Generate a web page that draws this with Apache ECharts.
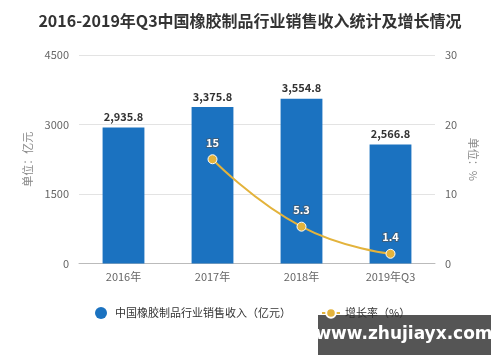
<!DOCTYPE html>
<html><head><meta charset="utf-8">
<script src="https://cdn.jsdelivr.net/npm/echarts@6/dist/echarts.min.js"></script>
<style>html,body{margin:0;padding:0;background:#fff}#c{width:500px;height:362px}</style>
</head><body><div id="c"></div>
<script>
const categories = ['2016年', '2017年', '2018年', '2019年Q3'];
const revenue = [2935.8, 3375.8, 3554.8, 2566.8];
const growth = [null, 15, 5.3, 1.4];
const leftTicks = [0, 1500, 3000, 4500];
const rightTicks = [0, 10, 20, 30];
const title = '2016-2019年Q3中国橡胶制品行业销售收入统计及增长情况';
const barName = '中国橡胶制品行业销售收入（亿元）';
const lineName = '增长率（%）';

const chart = echarts.init(document.getElementById('c'));
const font = '"Noto Sans CJK SC", "Noto Sans", sans-serif';
chart.setOption({
  animation: false,
  textStyle: { fontFamily: font },
  title: { text: title, left: 'center', top: 8,
    textStyle: { fontSize: 16, fontWeight: 'bold', color: '#333', fontFamily: font } },
  grid: { left: 79, right: 65, top: 55, bottom: 98.5 },
  legend: {
    left: 90, top: 302, itemGap: 30, itemWidth: 18, itemHeight: 12,
    textStyle: { fontSize: 11, color: '#333' },
    data: [{ name: barName, icon: 'circle' }, { name: lineName }]
  },
  xAxis: {
    type: 'category', data: categories,
    axisLine: { lineStyle: { color: '#bbb' } },
    axisTick: { show: false },
    axisLabel: { color: '#666', fontSize: 11, margin: 8 }
  },
  yAxis: [{
    type: 'value', min: leftTicks[0], max: leftTicks[3], interval: 1500,
    name: '单位：亿元', nameLocation: 'middle', nameGap: 45, nameRotate: 90,
    nameTextStyle: { color: '#888', fontSize: 11 },
    axisLabel: { color: '#666', fontSize: 11, margin: 10, formatter: v => String(v) },
    splitLine: { lineStyle: { color: '#e3e3e3' } },
    axisLine: { show: false }, axisTick: { show: false }
  }, {
    type: 'value', min: rightTicks[0], max: rightTicks[3], interval: 10,
    name: '单位：%', nameLocation: 'middle', nameGap: 32, nameRotate: -90,
    nameTextStyle: { color: '#888', fontSize: 11 },
    axisLabel: { color: '#666', fontSize: 11, margin: 10 },
    splitLine: { show: false },
    axisLine: { show: false }, axisTick: { show: false }
  }],
  series: [{
    name: barName, type: 'bar', data: revenue, barWidth: '47%',
    itemStyle: { color: '#1b72c0' },
    label: { show: true, position: 'top', color: '#333', fontWeight: 'bold', fontSize: 11,
      formatter: p => p.value.toLocaleString('en-US', { minimumFractionDigits: 1, maximumFractionDigits: 1 }) }
  }, {
    name: lineName, type: 'line', yAxisIndex: 1, data: growth, smooth: true,
    symbol: 'circle', symbolSize: 9,
    lineStyle: { color: '#e3b33c', width: 2 },
    itemStyle: { color: '#e3b33c', borderColor: '#fff', borderWidth: 1 },
    label: { show: true, position: 'top', distance: 6, color: '#fff', fontWeight: 'bold', fontSize: 11,
      textBorderColor: '#3a5f80', textBorderWidth: 2 }
  }],
  graphic: [{
    type: 'rect', shape: { x: 318, y: 315, width: 173, height: 40 },
    style: { fill: '#555' }
  }, {
    type: 'text', x: 404, y: 335,
    style: { text: 'www.zhujiayx.com', fill: '#fff', font: 'bold 17px "DejaVu Sans", sans-serif',
      textAlign: 'center', textVerticalAlign: 'middle' }
  }]
});
</script></body></html>
